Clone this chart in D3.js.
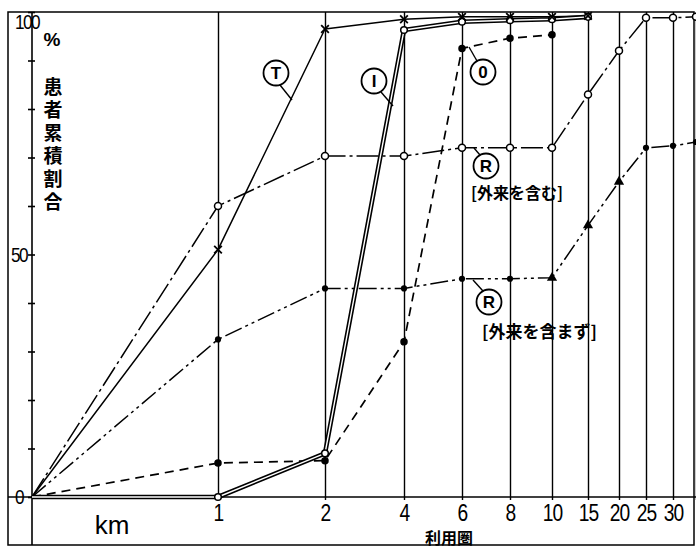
<!DOCTYPE html>
<html><head><meta charset="utf-8">
<script src="https://cdn.jsdelivr.net/npm/d3@7"></script>
<style>
html,body{margin:0;padding:0;background:#fff;}
svg{display:block;}
</style>
</head><body>
<svg id="chart" width="696" height="548"></svg>
<script>
// ---- data ----
const distances = [0, 1, 2, 4, 6, 8, 10, 15, 20, 25, 30, 35];
const tickLabels = ["", "1", "2", "4", "6", "8", "10", "15", "20", "25", "30", ""];
const yTicks = [0, 10, 20, 30, 40, 50, 60, 70, 80, 90, 100];
const yTickLabels = ["0", "", "", "", "", "50", "", "", "", "", "100"];
const seriesT = [0, 51, 96.5, 98.5, 99, 99, 99, 99.2];          // Ⓣ  0–15 km
const seriesI = [0, 0, 9, 96.3, 98, 98.3, 98.5, 99];            // Ⓘ  0–15 km
const seriesO = [0, 7, 7.5, 32, 92.5, 94.6, 95.3];              // ⓪  0–10 km
const seriesRin = [0, 60, 70.3, 70.3, 72, 72, 72, 83, 92, 98.8, 98.8, 99];     // Ⓡ 外来を含む
const seriesRex = [0, 32.5, 43, 43, 45, 45, 45.2, 56, 65, 72, 72.4, 73.2];     // Ⓡ 外来を含まず

// ---- scales ----
const svg = d3.select("#chart");
const xAnchors = [32, 218, 325, 404, 462, 510, 552, 588, 619, 646, 673, 696];
const x = d3.scaleLinear().domain(distances).range(xAnchors);
const y = d3.scaleLinear().domain([0, 100]).range([497, 12]);

const numFont = "'Liberation Sans',sans-serif";
const jpFont = "'Noto Sans CJK JP',sans-serif";

// frame
svg.append("rect").attr("x", 8).attr("y", 12).attr("width", 686).attr("height", 533)
  .attr("fill", "none").attr("stroke", "#000").attr("stroke-width", 1.5);

// vertical grid lines via axis
const gridAxis = d3.axisBottom(x).tickValues(distances.slice(1)).tickSize(-(y(0) - y(100))).tickFormat("");
const grid = svg.append("g").attr("transform", `translate(0,${y(0) + 3})`).call(gridAxis);
grid.select(".domain").remove();
grid.selectAll("line").attr("stroke", "#000").attr("stroke-width", 1.4).attr("y2", -(y(0) - y(100)) - 3);

// x axis baseline
svg.append("line").attr("x1", 8).attr("x2", 696).attr("y1", y(0)).attr("y2", y(0))
  .attr("stroke", "#000").attr("stroke-width", 1.6);

// x tick labels
const xLab = d3.axisBottom(x).tickValues(distances).tickSize(0)
  .tickFormat((d, i) => tickLabels[i]);
const xl = svg.append("g").attr("transform", `translate(0,${y(0) + 4})`).call(xLab);
xl.select(".domain").remove();
xl.selectAll("text").attr("font-family", numFont).attr("font-size", 24).attr("fill", "#000")
  .attr("transform", "scale(0.8,1)").attr("letter-spacing", -1);

// y axis line
svg.append("line").attr("x1", 32).attr("x2", 32).attr("y1", 12).attr("y2", 545)
  .attr("stroke", "#000").attr("stroke-width", 1.6);
// y ticks
const yAx = d3.axisLeft(y).tickValues(yTicks).tickSize(4).tickFormat("");
const ya = svg.append("g").attr("transform", "translate(35,0)").call(yAx);
ya.select(".domain").remove();
ya.selectAll("line").attr("stroke", "#000").attr("stroke-width", 1.6).attr("x2", -7);
// y labels
svg.append("g").selectAll("g").data(yTicks.filter((d, i) => yTickLabels[i] !== "")).join("g")
  .attr("transform", d => `translate(${d === 100 ? 27 : 19},${d === 100 ? y(d) + 10 : y(d)})`)
  .append("text")
  .attr("dy", "0.35em")
  .attr("text-anchor", "middle")
  .attr("transform", "scale(0.82,1)")
  .attr("font-family", numFont).attr("font-size", 21).attr("letter-spacing", -2)
  .text(d => yTickLabels[yTicks.indexOf(d)]);

// axis titles
svg.append("text").attr("x", 52).attr("y", 46).attr("text-anchor", "middle")
  .attr("font-family", "'Liberation Sans',sans-serif").attr("font-weight", "bold").attr("font-size", 19).text("%");
svg.append("text").attr("x", 53).attr("y", 77)
  .attr("writing-mode", "vertical-rl").style("writing-mode", "vertical-rl")
  .attr("text-anchor", "start").attr("font-family", jpFont).attr("font-weight", "bold")
  .attr("font-size", 19).attr("letter-spacing", 4).text("患者累積割合");
svg.append("text").attr("x", 112).attr("y", 534).attr("text-anchor", "middle")
  .attr("font-family", "'Liberation Sans',sans-serif").attr("font-size", 26).text("km");
svg.append("text").attr("x", 449).attr("y", 544).attr("text-anchor", "middle")
  .attr("font-family", jpFont).attr("font-weight", "bold").attr("font-size", 16).text("利用圏");

// ---- series ----
const line = d3.line().x((d, i) => x(distances[i])).y(d => y(d));

function path(data, opts) {
  return svg.append("path").datum(data).attr("d", line).attr("fill", "none")
    .attr("stroke", opts.color || "#000").attr("stroke-width", opts.w)
    .attr("stroke-dasharray", opts.dash || null).attr("stroke-linejoin", "round");
}

// Ⓡ 外来を含む : dash-dot, open circles
path(seriesRin, { w: 1.5, dash: "22,4,3,4" });
// Ⓡ 外来を含まず : dash-dot-dot, filled markers
path(seriesRex, { w: 1.5, dash: "18,4,3,4,3,4" });
// ⓪ : dashed, filled dots
path(seriesO, { w: 1.7, dash: "9,6" });
// Ⓣ : solid, × markers
path(seriesT, { w: 1.5 });
// Ⓘ : double line
path(seriesI, { w: 4.6 });
path(seriesI, { w: 1.4, color: "#fff" });

// markers
function dots(data, r, fill) {
  svg.append("g").selectAll("circle").data(data.slice(1)).join("circle")
    .attr("cx", (d, i) => x(distances[i + 1])).attr("cy", d => y(d)).attr("r", r)
    .attr("fill", fill).attr("stroke", "#000").attr("stroke-width", 1.5);
}
dots(seriesRin, 3.5, "#fff");
dots(seriesO, 3, "#000");
dots(seriesI, 3.3, "#fff");
svg.append("g").selectAll("path").data(seriesRex.slice(1)).join("path")
  .attr("transform", (d, i) => `translate(${x(distances[i + 1])},${y(d)})`)
  .attr("d", (d, i) => d3.symbol().type(i >= 5 && i <= 7 ? d3.symbolTriangle : d3.symbolCircle).size(i >= 5 && i <= 7 ? 45 : 30)())
  .attr("fill", "#000");
svg.append("g").selectAll("path").data(seriesT.slice(1)).join("path")
  .attr("transform", (d, i) => `translate(${x(distances[i + 1])},${y(d)})`)
  .attr("d", d3.symbol().type(d3.symbolX).size(40)())
  .attr("fill", "none").attr("stroke", "#000").attr("stroke-width", 1.8);

// ---- annotations ----
const notes = [
  { cx: 276, cy: 73, t: "T", lx1: 280, ly1: 85, lx2: 292, ly2: 100 },
  { cx: 374, cy: 81, t: "I", lx1: 381, ly1: 92, lx2: 393, ly2: 106 },
  { cx: 483, cy: 72, t: "0", lx1: 477, ly1: 61, lx2: 469, ly2: 47 },
  { cx: 486, cy: 166, t: "R", lx1: 480, ly1: 155, lx2: 474, ly2: 148 },
  { cx: 489, cy: 302, t: "R", lx1: 483, ly1: 291, lx2: 473, ly2: 280 }
];
const ng = svg.append("g");
notes.forEach(n => {
  ng.append("line").attr("x1", n.lx1).attr("y1", n.ly1).attr("x2", n.lx2).attr("y2", n.ly2)
    .attr("stroke", "#000").attr("stroke-width", 1.4);
  ng.append("circle").attr("cx", n.cx).attr("cy", n.cy).attr("r", 12.5)
    .attr("fill", "#fff").attr("stroke", "#000").attr("stroke-width", 1.8);
  ng.append("text").attr("x", n.cx).attr("y", n.cy).attr("dy", "0.36em").attr("text-anchor", "middle")
    .attr("font-family", "'Liberation Sans',sans-serif").attr("font-weight", "bold").attr("font-size", 17).text(n.t);
});
svg.append("text").attr("x", 471).attr("y", 199).attr("font-family", jpFont).attr("font-weight", "bold")
  .attr("font-size", 16).text("[外来を含む]");
svg.append("text").attr("x", 482).attr("y", 338).attr("font-family", jpFont).attr("font-weight", "bold")
  .attr("font-size", 17).text("[外来を含まず]");
</script>
</body></html>
